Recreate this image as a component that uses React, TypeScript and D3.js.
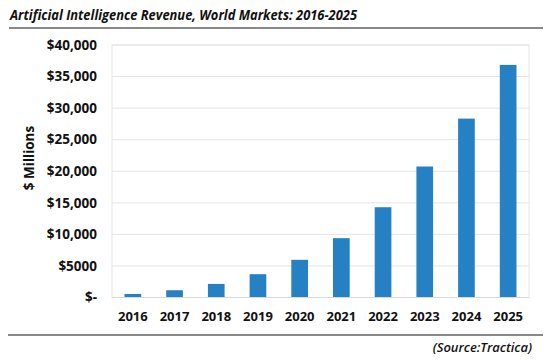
import React, { useEffect, useRef } from 'react'
import * as d3 from 'd3'

const years = ['2016', '2017', '2018', '2019', '2020', '2021', '2022', '2023', '2024', '2025']
const revenue = [560, 1150, 2150, 3690, 5970, 9400, 14300, 20750, 28340, 36850]
const yTicks = [0, 5000, 10000, 15000, 20000, 25000, 30000, 35000, 40000]

const fmt = (v: number) => {
    if (v === 0) return '$-'
    if (v < 10000) return `$${v}`
    return '$' + d3.format(',')(v)
}

const App: React.FC = () => {
    const svgRef = useRef<SVGSVGElement | null>(null)

    useEffect(() => {
        if (!svgRef.current) return
        const svg = d3.select(svgRef.current)
        svg.selectAll('*').remove()

        const left = 112
        const right = 529
        const top = 45
        const bottom = 297.5
        const font = "'Open Sans', 'Noto Sans', sans-serif"

        const x = d3.scaleBand().domain(years).range([left, right]).paddingInner(0.6).paddingOuter(0.3)
        const y = d3.scaleLinear().domain([0, 40000]).range([bottom, top])

        // title
        svg.append('text')
            .attr('x', 10)
            .attr('y', 20)
            .attr('font-family', font)
            .attr('font-size', 14)
            .attr('font-weight', 700)
            .attr('font-style', 'italic')
            .attr('fill', '#111')
            .attr('textLength', 347)
            .attr('lengthAdjust', 'spacingAndGlyphs')
            .text('Artificial Intelligence Revenue, World Markets: 2016-2025')

        svg.append('line')
            .attr('x1', 9).attr('x2', 543).attr('y1', 28).attr('y2', 28)
            .attr('stroke', '#888').attr('stroke-width', 2)

        // plot area border
        svg.append('rect')
            .attr('x', left).attr('y', top)
            .attr('width', right - left).attr('height', bottom - top)
            .attr('fill', 'none').attr('stroke', '#e6e6e6').attr('stroke-width', 1)

        // gridlines
        svg.append('g')
            .selectAll('line')
            .data(yTicks.slice(1))
            .enter()
            .append('line')
            .attr('x1', left).attr('x2', right)
            .attr('y1', (d) => y(d)).attr('y2', (d) => y(d))
            .attr('stroke', '#e4e4e4').attr('stroke-width', 1)

        // y labels
        svg.append('g')
            .selectAll('text')
            .data(yTicks)
            .enter()
            .append('text')
            .attr('x', 97)
            .attr('y', (d) => y(d))
            .attr('dy', '0.35em')
            .attr('text-anchor', 'end')
            .attr('font-family', font)
            .attr('font-size', 13.5)
            .attr('font-weight', 700)
            .attr('fill', '#111')
            .text((d) => fmt(d))

        svg.append('text')
            .attr('transform', `translate(34, ${158}) rotate(-90)`)
            .attr('text-anchor', 'middle')
            .attr('font-family', font)
            .attr('font-size', 13.5)
            .attr('font-weight', 700)
            .attr('fill', '#111')
            .text('$ Millions')

        // bars
        svg.append('g')
            .selectAll('rect')
            .data(revenue)
            .enter()
            .append('rect')
            .attr('x', (d, i) => x(years[i])!)
            .attr('y', (d) => y(d))
            .attr('width', x.bandwidth())
            .attr('height', (d) => bottom - y(d))
            .attr('fill', '#2581c4')

        // baseline
        svg.append('line')
            .attr('x1', left).attr('x2', right).attr('y1', bottom).attr('y2', bottom)
            .attr('stroke', '#d9d9d9').attr('stroke-width', 1)

        // x labels
        svg.append('g')
            .selectAll('text')
            .data(years)
            .enter()
            .append('text')
            .attr('x', (d) => x(d)! + x.bandwidth() / 2)
            .attr('y', 321)
            .attr('text-anchor', 'middle')
            .attr('font-family', font)
            .attr('font-size', 13)
            .attr('font-weight', 700)
            .attr('fill', '#111')
            .text((d) => d)

        svg.append('line')
            .attr('x1', 8).attr('x2', 543).attr('y1', 335).attr('y2', 335)
            .attr('stroke', '#888').attr('stroke-width', 2)

        svg.append('text')
            .attr('x', 532)
            .attr('y', 352)
            .attr('text-anchor', 'end')
            .attr('font-family', font)
            .attr('font-size', 13)
            .attr('font-weight', 600)
            .attr('font-style', 'italic')
            .attr('fill', '#111')
            .text('(Source:Tractica)')
    }, [])

    return (
        <svg
            ref={svgRef}
            width={550}
            height={362}
            style={{ position: 'absolute', left: 0, top: 0, background: '#fff' }}
        ></svg>
    )
}

export default App
